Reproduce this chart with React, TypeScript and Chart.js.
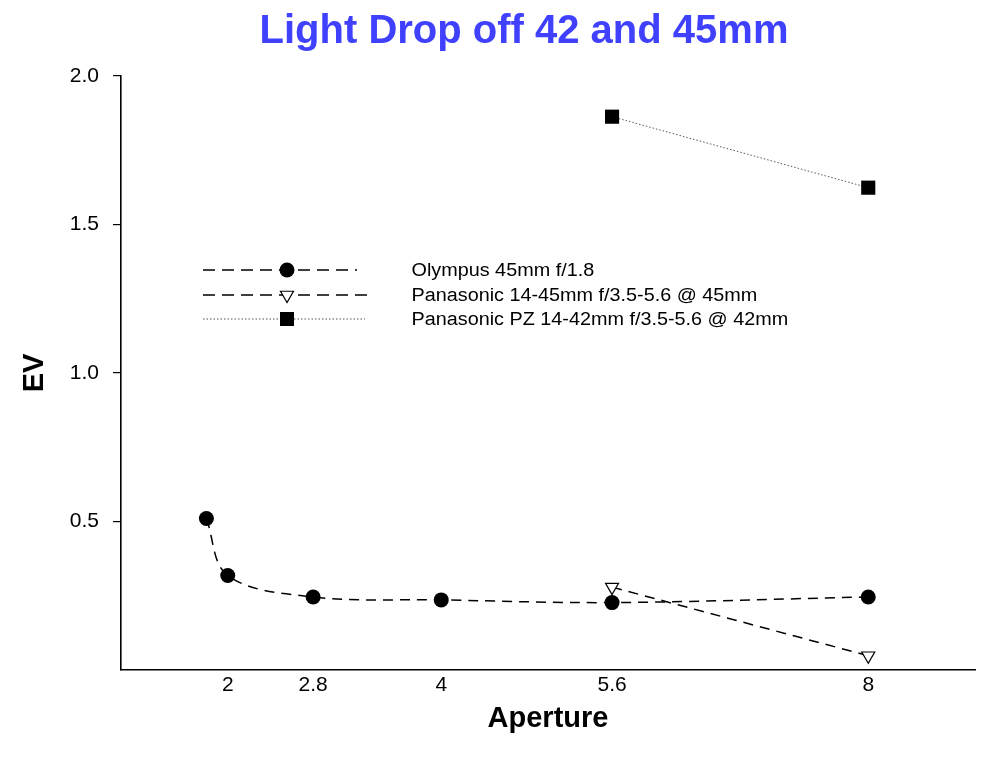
import React, { useEffect, useRef } from "react";
import { Chart, registerables } from "chart.js";

Chart.register(...registerables);

const titleText = "Light Drop off 42 and 45mm";
const xTitle = "Aperture";
const yTitle = "EV";
const xTicks = [2, 2.8, 4, 5.6, 8];
const yTicks = [0.5, 1.0, 1.5, 2.0];

const seriesNames = [
  "Olympus 45mm f/1.8",
  "Panasonic 14-45mm f/3.5-5.6 @ 45mm",
  "Panasonic PZ 14-42mm f/3.5-5.6 @ 42mm",
];

const olympusX = [1.8, 2, 2.8, 4, 5.6, 8];
const olympusEV = [0.51, 0.318, 0.246, 0.236, 0.227, 0.246];
const panaX = [5.6, 8];
const panaEV = [0.279, 0.048];
const pzX = [5.6, 8];
const pzEV = [1.863, 1.624];

const FONT = 'Arial, "Liberation Sans", sans-serif';

function toPoints(xs: number[], ys: number[]) {
  return xs.map((x, i) => ({ x, y: ys[i] }));
}

function drawMarker(ctx: CanvasRenderingContext2D, kind: string, x: number, y: number) {
  ctx.save();
  ctx.setLineDash([]);
  ctx.strokeStyle = "#000";
  ctx.lineWidth = 1.2;
  if (kind === "circle") {
    ctx.fillStyle = "#000";
    ctx.beginPath();
    ctx.arc(x, y, 7.5, 0, Math.PI * 2);
    ctx.fill();
  } else if (kind === "triangle") {
    const r = 7.5;
    ctx.fillStyle = "#fff";
    ctx.beginPath();
    ctx.moveTo(x, y + r);
    ctx.lineTo(x - r * 0.866, y - r / 2);
    ctx.lineTo(x + r * 0.866, y - r / 2);
    ctx.closePath();
    ctx.fill();
    ctx.stroke();
  } else {
    ctx.fillStyle = "#000";
    ctx.fillRect(x - 7, y - 7, 14, 14);
  }
  ctx.restore();
}

const decorPlugin = {
  id: "decor",
  afterDraw(chart: any) {
    const ctx: CanvasRenderingContext2D = chart.ctx;
    const area = chart.chartArea;
    ctx.save();
    // Title
    ctx.fillStyle = "#4040ff";
    ctx.font = `bold 40px ${FONT}`;
    ctx.textAlign = "center";
    ctx.textBaseline = "alphabetic";
    ctx.fillText(titleText, 524, 43);
    // X title
    ctx.fillStyle = "#000";
    ctx.font = `bold 29px ${FONT}`;
    ctx.fillText(xTitle, (area.left + area.right) / 2, 727);
    // Y title
    ctx.save();
    ctx.translate(35, (area.top + area.bottom) / 2);
    ctx.rotate(-Math.PI / 2);
    ctx.textBaseline = "middle";
    ctx.fillText(yTitle, 0, 0);
    ctx.restore();

    // Legend
    const rows = [
      { y: 270, end: 357, dash: [12, 7], width: 1.5, color: "#000", marker: "circle" },
      { y: 295, end: 370, dash: [12, 7], width: 1.5, color: "#000", marker: "triangle" },
      { y: 319, end: 365, dash: [1.5, 2], width: 1, color: "#555", marker: "rect" },
    ];
    rows.forEach((r, i) => {
      ctx.save();
      ctx.strokeStyle = r.color;
      ctx.lineWidth = r.width;
      ctx.setLineDash(r.dash);
      ctx.beginPath();
      ctx.moveTo(203, r.y);
      ctx.lineTo(r.end, r.y);
      ctx.stroke();
      ctx.restore();
      drawMarker(ctx, r.marker, 287, r.y);
      ctx.save();
      ctx.fillStyle = "#000";
      ctx.font = `18px ${FONT}`;
      ctx.textAlign = "left";
      ctx.textBaseline = "middle";
      ctx.translate(411.5, r.y + 1);
      ctx.scale(1.1, 1);
      ctx.fillText(seriesNames[i], 0, 0);
      ctx.restore();
    });
    ctx.restore();
  },
};

export default function App() {
  const ref = useRef<HTMLCanvasElement | null>(null);

  useEffect(() => {
    if (!ref.current) return;
    const chart = new Chart(ref.current, {
      type: "scatter",
      data: {
        datasets: [
          {
            label: seriesNames[2],
            data: toPoints(pzX, pzEV),
            showLine: true,
            borderColor: "#555",
            borderWidth: 1,
            borderDash: [1.5, 2],
            pointStyle: "rect",
            pointRadius: 10,
            pointBackgroundColor: "#000",
            pointBorderColor: "#000",
            pointBorderWidth: 0,
          },
          {
            label: seriesNames[1],
            data: toPoints(panaX, panaEV),
            showLine: true,
            borderColor: "#000",
            borderWidth: 1.5,
            borderDash: [10, 7],
            pointStyle: "triangle",
            rotation: 180,
            pointRadius: 7.5,
            pointBackgroundColor: "#fff",
            pointBorderColor: "#000",
            pointBorderWidth: 1.2,
          },
          {
            label: seriesNames[0],
            data: toPoints(olympusX, olympusEV),
            showLine: true,
            borderColor: "#000",
            borderWidth: 1.5,
            borderDash: [10, 7],
            tension: 0.35,
            pointStyle: "circle",
            pointRadius: 7.5,
            pointBackgroundColor: "#000",
            pointBorderColor: "#000",
            pointBorderWidth: 0,
          },
        ],
      },
      options: {
        animation: false,
        responsive: true,
        maintainAspectRatio: false,
        layout: { padding: { top: 76, right: 25, left: 0, bottom: 0 } },
        plugins: {
          legend: { display: false },
          title: { display: false },
          tooltip: { enabled: false },
        },
        scales: {
          x: {
            type: "linear",
            min: 1,
            max: 9,
            afterBuildTicks: (s: any) => {
              s.ticks = xTicks.map((v) => ({ value: v }));
            },
            afterFit: (s: any) => {
              s.height = 99;
            },
            grid: { display: false, drawTicks: false },
            border: { display: true, color: "#000", width: 1.6 },
            ticks: {
              color: "#000",
              font: { family: FONT, size: 21 },
              padding: 3,
              maxRotation: 0,
              autoSkip: false,
              callback: (v: any) => String(v),
            },
          },
          y: {
            type: "linear",
            min: 0,
            max: 2,
            afterBuildTicks: (s: any) => {
              s.ticks = yTicks.map((v) => ({ value: v }));
            },
            afterFit: (s: any) => {
              s.width = 121;
            },
            grid: {
              display: true,
              drawOnChartArea: false,
              drawTicks: true,
              tickLength: 8,
              color: "#000",
              lineWidth: 1.2,
            },
            border: { display: true, color: "#000", width: 1.6 },
            ticks: {
              color: "#000",
              font: { family: FONT, size: 21 },
              padding: 14,
              autoSkip: false,
              callback: (v: any) => Number(v).toFixed(1),
            },
          },
        },
      },
      plugins: [decorPlugin],
    });
    return () => chart.destroy();
  }, []);

  return (
    <div style={{ position: "absolute", left: 0, top: 0, width: 1000, height: 769, background: "#fff" }}>
      <canvas ref={ref} />
    </div>
  );
}
